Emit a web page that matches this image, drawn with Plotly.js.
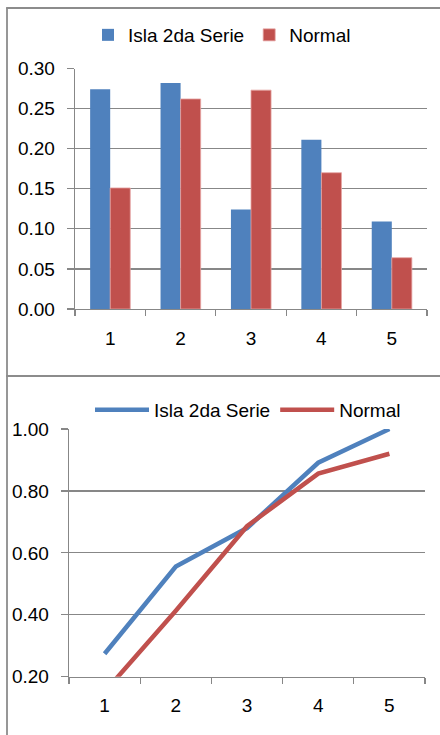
<!DOCTYPE html>
<html><head><meta charset="utf-8">
<script src="https://cdn.plot.ly/plotly-3.0.1.min.js"></script>
<style>html,body{margin:0;padding:0;background:#fff}#chart{width:440px;height:735px}</style>
</head><body><div id="chart"></div>
<script>
const categories = ['1', '2', '3', '4', '5'];
const islaFreq = [0.274, 0.282, 0.124, 0.211, 0.109];
const normalFreq = [0.151, 0.262, 0.273, 0.170, 0.064];
const islaCum = [0.274, 0.556, 0.680, 0.891, 1.000];
const normalCum = [0.151, 0.413, 0.686, 0.856, 0.920];
const seriesNames = ['Isla 2da Serie', 'Normal'];

const W = 440, H = 735;
const BLUE = '#4F81BD', RED = '#C0504D', GRAY = '#878787';
const FONT = {family: 'Liberation Sans, Arial, sans-serif', size: 19, color: '#000'};
const px = v => v / W;
const py = v => 1 - v / H;

const traces = [
  {type: 'bar', x: categories, y: islaFreq, name: seriesNames[0], marker: {color: BLUE}, xaxis: 'x', yaxis: 'y', legend: 'legend'},
  {type: 'bar', x: categories, y: normalFreq, name: seriesNames[1], marker: {color: RED, line: {color: '#E6A5A3', width: 0.8}}, xaxis: 'x', yaxis: 'y', legend: 'legend'},
  {type: 'scatter', mode: 'lines', x: categories, y: islaCum, name: seriesNames[0], line: {color: BLUE, width: 4.5}, xaxis: 'x2', yaxis: 'y2', legend: 'legend2'},
  {type: 'scatter', mode: 'lines', x: categories, y: normalCum, name: seriesNames[1], line: {color: RED, width: 4.5}, xaxis: 'x2', yaxis: 'y2', legend: 'legend2'}
];

const axCommon = {
  showline: true, linecolor: GRAY, linewidth: 1.3,
  ticks: 'outside', tickcolor: GRAY, tickwidth: 1.3,
  tickfont: FONT, automargin: false, fixedrange: true
};

const layout = {
  width: W, height: H,
  margin: {l: 0, r: 0, t: 0, b: 0},
  paper_bgcolor: '#fff', plot_bgcolor: '#fff',
  font: FONT,
  barmode: 'group', bargap: 0.43, bargroupgap: 0,
  xaxis: Object.assign({}, axCommon, {
    domain: [px(75), px(427)], anchor: 'y', type: 'category', range: [-0.5, 4.5],
    tickson: 'boundaries', ticklen: 6, showgrid: false, ticklabelstandoff: 12
  }),
  yaxis: Object.assign({}, axCommon, {
    domain: [py(309), py(68.5)], anchor: 'x', range: [0, 0.30], dtick: 0.05,
    tickformat: '.2f', ticklen: 7, showgrid: true, gridcolor: GRAY, gridwidth: 1.3,
    zeroline: false, ticklabelstandoff: 8
  }),
  xaxis2: Object.assign({}, axCommon, {
    domain: [px(69), px(425)], anchor: 'y2', type: 'category', range: [-0.5, 4.5],
    tickson: 'boundaries', ticklen: 6, showgrid: false, ticklabelstandoff: 11
  }),
  yaxis2: Object.assign({}, axCommon, {
    domain: [py(676.7), py(429)], anchor: 'x2', range: [0.2, 1.0], dtick: 0.2,
    tickformat: '.2f', ticklen: 7, showgrid: true, gridcolor: GRAY, gridwidth: 1.3,
    zeroline: false, ticklabelstandoff: 8
  }),
  legend: {
    orientation: 'h', x: px(88), xanchor: 'left', y: py(35), yanchor: 'middle',
    font: FONT, bgcolor: 'rgba(0,0,0,0)', traceorder: 'normal'
  },
  legend2: {
    orientation: 'h', x: px(90), xanchor: 'left', y: py(410), yanchor: 'middle',
    font: FONT, bgcolor: 'rgba(0,0,0,0)', traceorder: 'normal', itemwidth: 54
  },
  shapes: [
    {type: 'line', xref: 'paper', yref: 'paper', x0: px(7), x1: px(7), y0: 0, y1: py(8), line: {color: '#8C8C8C', width: 1.8}},
    {type: 'line', xref: 'paper', yref: 'paper', x0: px(6.1), x1: 1, y0: py(8), y1: py(8), line: {color: '#8C8C8C', width: 1.8}},
    {type: 'line', xref: 'paper', yref: 'paper', x0: px(6.1), x1: 1, y0: py(376), y1: py(376), line: {color: '#8C8C8C', width: 1.8}}
  ]
};

Plotly.newPlot('chart', traces, layout, {displayModeBar: false, staticPlot: true});
</script>
</body></html>
